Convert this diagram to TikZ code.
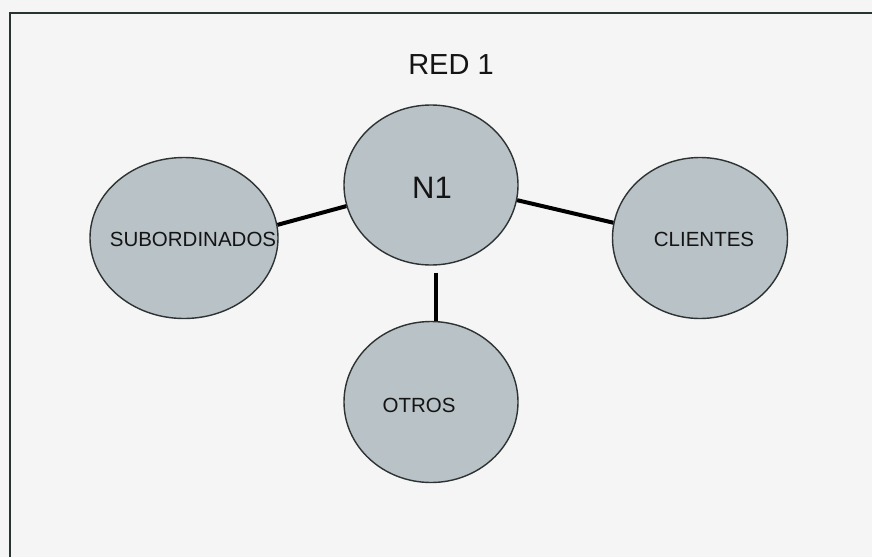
\documentclass[tikz,border=0pt]{standalone}
\usepackage{fontspec}
\setmainfont{Liberation Sans}
\usetikzlibrary{shapes.geometric}
\definecolor{paper}{RGB}{244,245,244}
\definecolor{bubble}{RGB}{185,194,199}
\definecolor{rim}{RGB}{45,50,50}
\definecolor{frameline}{RGB}{40,52,46}
\begin{document}
\begin{tikzpicture}[x=1pt,y=-1pt,
  bubblenode/.style={ellipse, draw=rim, line width=1.4pt, fill=bubble, inner sep=0pt},
  link/.style={line width=4pt, black},
  tag/.style={inner sep=0pt, font=\fontsize{20.5}{22}\selectfont, text=black!92}]
  % page
  \fill[paper] (0,0) rectangle (872,557);
  \useasboundingbox (0,0) rectangle (872,557);
  % frame (top and left edges)
  \draw[frameline, line width=2.2pt] (10,557) -- (10,13) -- (872,13);
  % title
  \node[inner sep=0pt, font=\fontsize{29}{32}\selectfont, text=black!92] (title) at (451,65) {RED 1};
  % bubbles
  \node[bubblenode, minimum width=174pt, minimum height=160pt] (n1) at (431,185) {};
  \node[bubblenode, minimum width=188pt, minimum height=161pt] (sub) at (184,238) {};
  \node[bubblenode, minimum width=175pt, minimum height=161pt] (cli) at (700,238) {};
  \node[bubblenode, minimum width=174pt, minimum height=161pt] (otros) at (431,402) {};
  % labels
  \node[inner sep=0pt, font=\fontsize{31}{33}\selectfont, text=black!92] (n1t) at (432,188) {N1};
  \node[tag] (subt) at (193,239) {SUBORDINADOS};
  \node[tag] (clit) at (704,239) {CLIENTES};
  \node[tag] (otrost) at (419,405) {OTROS};
  % connectors
  \draw[link] (sub.8) -- (n1.194);
  \draw[link] (n1.-10) -- (cli.170);
  \draw[link] ([xshift=4.5pt,yshift=-7pt]n1.south) -- ([xshift=4.5pt]otros.north);
\end{tikzpicture}
\end{document}
